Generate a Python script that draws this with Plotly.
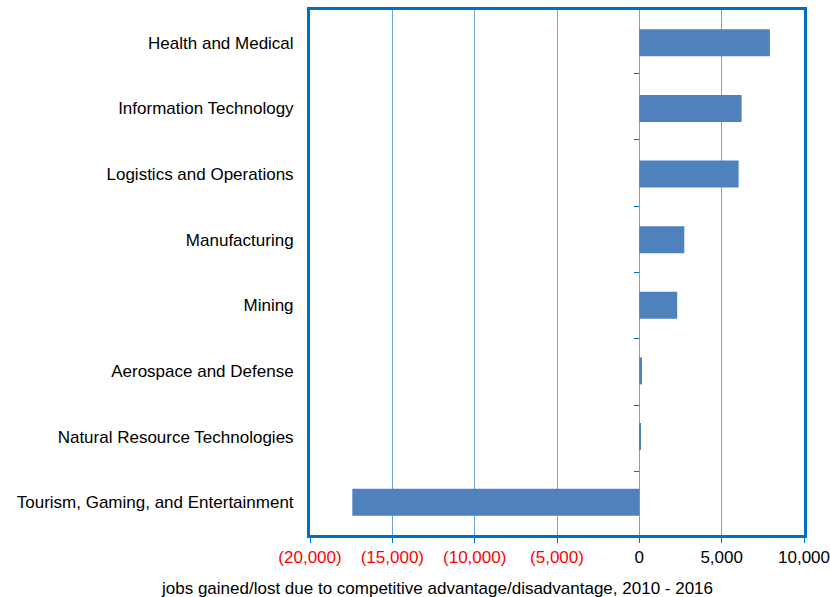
import plotly.graph_objects as go

categories = [
    "Health and Medical",
    "Information Technology",
    "Logistics and Operations",
    "Manufacturing",
    "Mining",
    "Aerospace and Defense",
    "Natural Resource Technologies",
    "Tourism, Gaming, and Entertainment",
]
values = [7930, 6210, 6030, 2730, 2300, 160, 100, -17430]

tick_vals = [-20000, -15000, -10000, -5000, 0, 5000, 10000]
tick_labels = ["(20,000)", "(15,000)", "(10,000)", "(5,000)", "0", "5,000", "10,000"]
x_title = "jobs gained/lost due to competitive advantage/disadvantage, 2010 - 2016"

tick_text = [
    f'<span style="color:#FF0000">{t}</span>' if v < 0 else t
    for v, t in zip(tick_vals, tick_labels)
]

FONT = "Liberation Sans, Arial, sans-serif"
FRAME = "#0070C0"
GRID = "#6FA3DA"
FS = 17

W, H = 830, 597
ML, MR, MT, MB = 310, 26, 10, 62

fig = go.Figure()
fig.add_trace(go.Bar(
    x=values, y=categories, orientation="h",
    marker=dict(color="#4F81BD", line=dict(width=0)),
    hoverinfo="x+y",
))
# invisible helper trace for the zero-line category axis (ticks at boundaries)
fig.add_trace(go.Scatter(
    x=[0] * len(categories), y=categories, yaxis="y2", mode="markers",
    marker=dict(opacity=0), hoverinfo="skip", showlegend=False,
))

# axis title centred under the whole chart (as in the reference)
plot_w = W - ML - MR
plot_h = H - MT - MB
title_x = (437 - ML) / plot_w
title_y = -(588 - (H - MB)) / plot_h

fig.add_annotation(
    text=x_title, xref="paper", yref="paper",
    x=title_x, y=title_y, xanchor="center", yanchor="middle",
    showarrow=False, font=dict(family=FONT, size=FS, color="black"),
)

fig.update_layout(
    width=W, height=H,
    margin=dict(l=ML, r=MR, t=MT, b=MB),
    paper_bgcolor="white", plot_bgcolor="white",
    font=dict(family=FONT, size=FS, color="black"),
    showlegend=False,
    bargap=0.59,
    xaxis=dict(
        range=[-20000, 10000],
        automargin=False,
        tickvals=tick_vals, ticktext=tick_text,
        showgrid=True, gridcolor=GRID, gridwidth=1,
        zeroline=False,
        showline=True, linecolor=FRAME, linewidth=3, mirror=True,
        ticks="outside", ticklen=5, tickcolor=FRAME, tickwidth=1,
        tickfont=dict(family=FONT, size=FS, color="black"),
    ),
    yaxis=dict(
        autorange="reversed",
        automargin=False,
        type="category",
        showgrid=False, zeroline=False,
        showline=True, linecolor=FRAME, linewidth=3, mirror=True,
        ticks="", ticklabelstandoff=10,
        tickfont=dict(family=FONT, size=FS, color="black"),
    ),
    yaxis2=dict(
        overlaying="y", anchor="free", position=2 / 3, side="left",
        automargin=False,
        type="category", autorange="reversed",
        categoryorder="array", categoryarray=categories,
        showgrid=False, zeroline=False, showline=False,
        ticks="outside", tickson="boundaries", ticklen=5,
        tickcolor=FRAME, tickwidth=1, showticklabels=False,
    ),
)

fig.write_html(
    "out.html",
    config={"displayModeBar": False},
    post_script="document.body.style.margin='0';document.body.style.overflow='hidden';",
)
